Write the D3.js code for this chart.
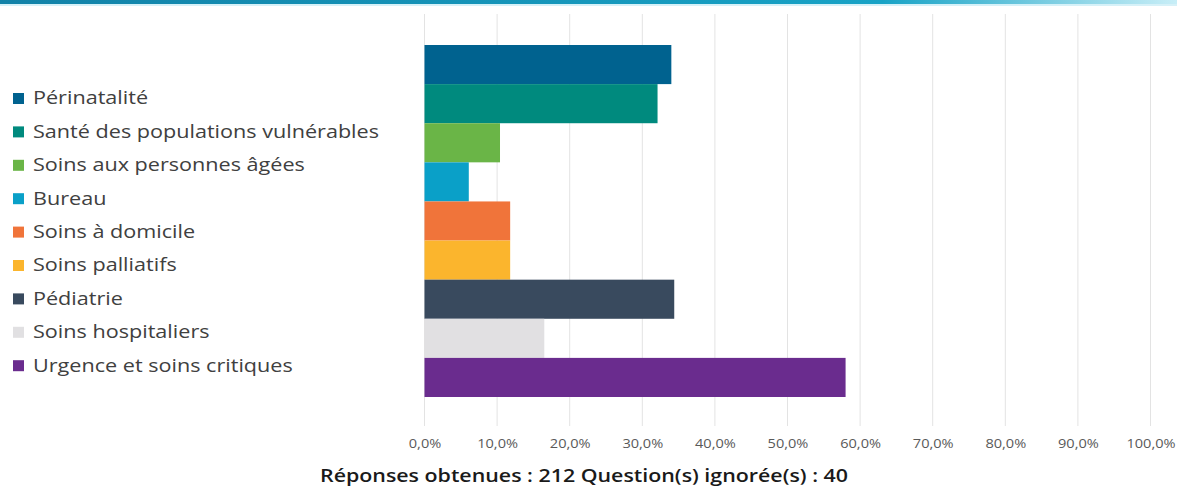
<!doctype html>
<html>
<head>
<meta charset="utf-8">
<script src="https://d3js.org/d3.v7.min.js"></script>
<style>
  body { margin: 0; background: #fff; }
  text { font-family: "Open Sans", sans-serif; }
</style>
</head>
<body>
<svg width="1177" height="489"></svg>
<script>
// categories, top to bottom
var categories = [
  "Périnatalité",
  "Santé des populations vulnérables",
  "Soins aux personnes âgées",
  "Bureau",
  "Soins à domicile",
  "Soins palliatifs",
  "Pédiatrie",
  "Soins hospitaliers",
  "Urgence et soins critiques"
];
var values = [34.0, 32.1, 10.4, 6.1, 11.8, 11.8, 34.4, 16.5, 58.0];
var colors = ["#00628f", "#008a7e", "#6ab547", "#0aa0c8", "#f0743a", "#fbb52d", "#394a5e", "#e1e0e2", "#6a2c8e"];
var ticks = [0, 10, 20, 30, 40, 50, 60, 70, 80, 90, 100];
var caption = "Réponses obtenues : 212 Question(s) ignorée(s) : 40";

var svg = d3.select("svg");

// top banner line
var grad = svg.append("defs").append("linearGradient").attr("id", "band");
grad.append("stop").attr("offset", "0%").attr("stop-color", "#1282a8");
grad.append("stop").attr("offset", "75%").attr("stop-color", "#18a3c6");
grad.append("stop").attr("offset", "100%").attr("stop-color", "#c8eef7");
svg.append("rect").attr("x", 0).attr("y", 0).attr("width", 1177).attr("height", 4).attr("fill", "url(#band)");
svg.append("rect").attr("x", 0).attr("y", 4).attr("width", 1177).attr("height", 2).attr("fill", "#d6f1f8");

var x = d3.scaleLinear().domain([0, 100]).range([424.5, 1150.5]);
var y = d3.scaleBand().domain(categories).range([45, 397]).padding(0);

// grid
svg.append("g").selectAll("line")
  .data(ticks).enter().append("line")
    .attr("x1", d => x(d)).attr("x2", d => x(d))
    .attr("y1", 14).attr("y2", 426)
    .attr("stroke", "#e3e3e3").attr("stroke-width", 1);

// bars
svg.append("g").selectAll("rect")
  .data(categories).enter().append("rect")
    .attr("x", x(0))
    .attr("y", d => y(d))
    .attr("width", (d, i) => x(values[i]) - x(0))
    .attr("height", y.bandwidth())
    .attr("fill", (d, i) => colors[i]);

// x axis labels
var axis = d3.axisBottom(x).tickValues(ticks).tickSize(0)
  .tickFormat(d => d3.format(".1f")(d).replace(".", ",") + "%");
var ax = svg.append("g").attr("transform", "translate(0,436)").call(axis);
ax.select(".domain").remove();
ax.selectAll(".tick text").attr("fill", "#595959").style("font-size", "13px")
  .style("font-family", "'Open Sans', sans-serif")
  .each(function() {
    var w = this.getComputedTextLength();
    d3.select(this).attr("textLength", w * 1.12).attr("lengthAdjust", "spacingAndGlyphs");
  });

// legend
var leg = svg.append("g").selectAll("g")
  .data(categories).enter().append("g")
    .attr("transform", (d, i) => "translate(13," + (98 + i * 33.4) + ")");
leg.append("rect").attr("x", 0).attr("y", -5).attr("width", 11).attr("height", 11)
  .attr("fill", (d, i) => colors[i]);
leg.append("text").attr("x", 20).attr("dy", "0.35em")
  .attr("fill", "#404040").style("font-size", "18px")
  .text(d => d)
  .each(function() {
    var w = this.getComputedTextLength();
    d3.select(this).attr("textLength", w * 1.2).attr("lengthAdjust", "spacingAndGlyphs");
  });

// caption
svg.append("text").attr("x", 584).attr("y", 482)
  .attr("text-anchor", "middle").attr("fill", "#1a1a1a")
  .style("font-size", "18.5px").style("font-weight", "600")
  .attr("textLength", 528).attr("lengthAdjust", "spacingAndGlyphs")
  .text(caption);
</script>
</body>
</html>
